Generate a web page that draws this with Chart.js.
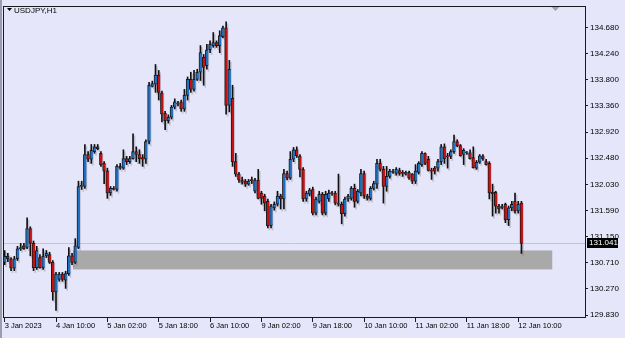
<!DOCTYPE html>
<html>
<head>
<meta charset="utf-8">
<script src="https://cdn.jsdelivr.net/npm/chart.js@4.4.1/dist/chart.umd.min.js"></script>
<style>
  html, body { margin: 0; padding: 0; background: #e6e6fa; }
  #wrap { width: 625px; height: 338px; }
</style>
</head>
<body>
<div id="wrap"><canvas id="chart" width="625" height="338"></canvas></div>
<script>
// USDJPY H1, 3 Jan 18:00 .. 12 Jan 11:00 (bar index 0..161)
const symbolTitle = 'USDJPY,H1';

const opens = [
  130.72,130.82,130.78,130.62,130.78,130.95,131.00,130.97,131.29,131.04,
  130.63,130.80,130.63,130.83,130.85,130.72,130.22,130.43,130.52,130.42,
  130.53,130.83,130.72,130.97,132.00,132.00,132.54,132.46,132.59,132.67,
  132.56,132.39,132.26,131.89,131.97,131.95,132.34,132.31,132.47,132.42,
  132.47,132.59,132.54,132.49,132.46,132.76,133.69,133.73,133.88,133.58,
  133.24,133.11,133.17,133.34,133.41,133.43,133.31,133.54,133.81,133.64,
  133.81,133.93,134.18,134.04,134.31,134.38,134.43,134.38,134.53,134.68,
  133.37,133.49,132.42,132.21,132.11,132.09,132.04,132.11,131.92,132.11,
  131.89,131.84,131.75,131.34,131.64,131.70,131.84,131.79,132.22,132.14,
  132.46,132.62,132.51,132.29,131.79,131.87,131.95,131.55,131.75,131.87,
  131.55,131.79,131.89,131.89,131.72,131.70,131.54,131.79,131.80,131.97,
  131.75,131.89,132.22,131.84,131.80,131.97,132.04,132.39,132.29,132.00,
  132.17,132.26,132.22,132.27,132.24,132.21,132.24,132.21,132.09,132.24,
  132.37,132.56,132.46,132.27,132.31,132.31,132.42,132.67,132.51,132.51,
  132.59,132.76,132.69,132.54,132.57,132.57,132.49,132.31,132.41,132.52,
  132.42,132.39,131.90,131.90,131.67,131.64,131.70,131.44,131.64,131.75,
  131.59,131.72
];
const highs = [
  130.92,130.87,130.80,130.82,130.99,131.04,131.04,131.47,131.32,131.08,
  130.99,130.85,130.95,130.92,130.89,130.75,130.55,130.55,130.55,130.57,
  130.97,130.87,131.12,132.09,132.09,132.71,132.59,132.71,132.71,132.71,
  132.59,132.42,132.31,132.00,132.00,132.37,132.39,132.62,132.51,132.51,
  132.89,132.67,132.62,132.54,132.79,133.76,133.78,134.06,133.96,133.61,
  133.27,133.21,133.37,133.48,133.44,133.46,133.64,133.85,133.93,133.96,
  133.98,134.38,134.23,134.40,134.46,134.60,134.46,134.63,134.71,134.78,
  134.13,133.71,132.56,132.24,132.16,132.12,132.12,132.16,132.14,132.29,
  131.92,131.87,131.79,131.70,131.74,131.92,131.87,132.29,132.26,132.59,
  132.66,132.67,132.54,132.32,131.92,131.97,131.99,131.82,131.92,131.90,
  131.92,131.94,131.92,131.92,132.21,131.74,131.82,131.87,132.00,132.04,
  131.95,132.29,132.26,131.87,132.00,132.09,132.46,132.46,132.34,132.34,
  132.29,132.29,132.32,132.31,132.27,132.26,132.26,132.22,132.37,132.42,
  132.59,132.57,132.51,132.31,132.34,132.46,132.71,132.72,132.56,132.62,
  132.87,132.79,132.71,132.64,132.59,132.62,132.67,132.44,132.54,132.54,
  132.46,132.42,132.04,131.92,131.70,131.70,131.72,131.67,131.75,131.89,
  131.75,131.75
];
const lows = [
  130.68,130.73,130.58,130.58,130.75,130.92,130.94,130.95,130.83,130.58,
  130.60,130.62,130.60,130.80,130.70,130.08,129.91,130.40,130.40,130.28,
  130.50,130.68,130.70,130.95,131.95,131.97,132.42,132.39,132.56,132.62,
  132.34,132.05,131.80,131.85,131.94,131.92,132.29,132.29,132.37,132.39,
  132.46,132.42,132.39,132.34,132.39,132.72,133.68,133.59,133.46,133.09,
  132.96,133.07,133.14,133.31,133.36,133.27,133.27,133.46,133.59,133.61,
  133.79,133.79,133.71,133.98,134.26,134.35,134.35,134.26,134.51,133.22,
  133.26,132.34,132.17,132.07,132.04,132.00,132.02,132.05,131.89,131.79,
  131.70,131.59,131.30,131.30,131.60,131.67,131.62,131.62,132.11,132.12,
  132.42,132.49,132.16,131.75,131.75,131.84,131.52,131.52,131.72,131.52,
  131.52,131.75,131.85,131.69,131.67,131.37,131.50,131.75,131.77,131.65,
  131.72,131.84,131.80,131.77,131.77,131.94,131.97,132.26,131.72,131.92,
  132.14,132.22,132.19,132.19,132.17,132.19,132.12,132.05,132.05,132.21,
  132.34,132.37,132.26,132.12,132.21,132.26,132.37,132.39,132.31,132.47,
  132.56,132.67,132.51,132.37,132.54,132.46,132.31,132.29,132.39,132.44,
  132.36,131.79,131.50,131.55,131.55,131.62,131.39,131.34,131.59,131.55,
  131.55,130.87
];
const closes = [
  130.82,130.78,130.62,130.78,130.95,130.97,130.95,131.29,131.04,130.63,
  130.92,130.63,130.82,130.87,130.72,130.22,130.52,130.52,130.43,130.53,
  130.83,130.72,131.00,132.00,132.02,132.54,132.46,132.61,132.67,132.64,
  132.37,132.26,131.89,131.97,131.95,132.34,132.31,132.47,132.42,132.47,
  132.59,132.54,132.47,132.46,132.76,133.71,133.74,133.88,133.59,133.22,
  133.11,133.17,133.34,133.43,133.39,133.31,133.54,133.81,133.64,133.81,
  133.93,134.26,134.01,134.31,134.40,134.43,134.38,134.55,134.68,133.37,
  133.98,132.42,132.21,132.11,132.07,132.04,132.09,132.10,132.11,131.80,
  131.80,131.72,131.34,131.67,131.70,131.84,131.79,132.22,132.14,132.46,
  132.62,132.52,132.29,131.79,131.89,131.94,131.55,131.79,131.87,131.55,
  131.87,131.89,131.88,131.72,131.70,131.54,131.79,131.84,131.97,131.75,
  131.92,132.22,131.84,131.80,131.97,132.05,132.39,132.29,132.00,132.17,
  132.26,132.24,132.29,132.22,132.22,132.24,132.14,132.09,132.26,132.39,
  132.56,132.39,132.27,132.26,132.26,132.42,132.67,132.47,132.50,132.59,
  132.76,132.69,132.52,132.61,132.58,132.47,132.32,132.41,132.52,132.47,
  132.37,131.89,131.88,131.67,131.62,131.67,131.44,131.64,131.70,131.59,
  131.70,131.041
];

// time axis: label every 16 bars
const xTickBars = [0, 16, 32, 48, 64, 80, 96, 112, 128, 144, 160];
const xTickLabels = ['3 Jan 2023', '4 Jan 10:00', '5 Jan 02:00', '5 Jan 18:00', '6 Jan 10:00',
  '9 Jan 02:00', '9 Jan 18:00', '10 Jan 10:00', '11 Jan 02:00', '11 Jan 18:00', '12 Jan 10:00'];
const yTicks = [129.830, 130.270, 130.710, 131.150, 131.590, 132.030, 132.480, 132.920, 133.360, 133.800, 134.240, 134.680];

// grey demand zone (bar index range, price range)
const zoneBars = [21.3, 170.6];
const zonePrices = [130.60, 130.92];
const shiftMarkerBar = 171.6;

const UP = '#2070c4';
const DOWN = '#c81010';
const FONT = "'Liberation Sans', Arial, sans-serif";

const barIdx = opens.map((_, i) => i);
const lastClose = closes[closes.length - 1];

const mtPlugin = {
  id: 'mt',
  beforeDraw(chart) {
    const ctx = chart.ctx;
    ctx.save();
    ctx.fillStyle = '#e6e6fa';
    ctx.fillRect(0, 0, chart.width, chart.height);
    ctx.fillStyle = '#9c9cac';
    ctx.fillRect(0, 0, 2, chart.height);
    ctx.restore();
  },
  beforeDatasetsDraw(chart) {
    const { ctx, chartArea: a, scales: { x, y } } = chart;
    ctx.save();
    ctx.beginPath();
    ctx.rect(a.left, a.top, a.right - a.left, a.bottom - a.top);
    ctx.clip();
    // zone
    const zx0 = x.getPixelForValue(zoneBars[0]);
    const zx1 = x.getPixelForValue(zoneBars[1]);
    const zy0 = y.getPixelForValue(zonePrices[1]);
    const zy1 = y.getPixelForValue(zonePrices[0]);
    ctx.fillStyle = '#a9a9a9';
    ctx.fillRect(zx0, zy0, zx1 - zx0, zy1 - zy0);
    // bid line
    const by = Math.round(y.getPixelForValue(lastClose)) + 0.5;
    ctx.strokeStyle = '#c4c4d0';
    ctx.lineWidth = 1;
    ctx.beginPath();
    ctx.moveTo(a.left, by);
    ctx.lineTo(a.right, by);
    ctx.stroke();
    ctx.restore();
    // candle shadow
    ctx.save();
    ctx.shadowColor = 'rgba(110, 110, 120, 0.3)';
    ctx.shadowOffsetX = 1.5;
    ctx.shadowOffsetY = 2;
    ctx.shadowBlur = 0;
  },
  afterDatasetsDraw(chart) {
    chart.ctx.restore();
  },
  afterDraw(chart) {
    const { ctx, chartArea: a, scales: { x, y } } = chart;
    ctx.save();
    // frame
    ctx.strokeStyle = '#1a1a1a';
    ctx.lineWidth = 1;
    ctx.strokeRect(Math.round(a.left) - 0.5, Math.round(a.top) + 0.5,
      Math.round(a.right - a.left) + 1, Math.round(a.bottom - a.top) - 1);
    // chart shift marker
    const sx = x.getPixelForValue(shiftMarkerBar);
    ctx.fillStyle = '#a0a0b0';
    ctx.beginPath();
    ctx.moveTo(sx - 4, a.top + 1);
    ctx.lineTo(sx + 4, a.top + 1);
    ctx.lineTo(sx, a.top + 5);
    ctx.closePath();
    ctx.fill();
    // title
    ctx.fillStyle = '#000';
    ctx.beginPath();
    ctx.moveTo(7, 8);
    ctx.lineTo(12, 8);
    ctx.lineTo(9.5, 11);
    ctx.closePath();
    ctx.fill();
    ctx.font = '8px ' + FONT;
    ctx.textBaseline = 'middle';
    ctx.fillText(symbolTitle, 14, 10.5);
    // bid price label
    const py = y.getPixelForValue(lastClose);
    ctx.fillStyle = '#000';
    ctx.fillRect(a.right + 2, Math.round(py) - 5, 31, 10);
    ctx.fillStyle = '#fff';
    ctx.fillText(lastClose.toFixed(3), a.right + 4, Math.round(py));
    ctx.restore();
  }
};

new Chart(document.getElementById('chart'), {
  type: 'bar',
  data: {
    datasets: [
      {
        label: 'wick',
        data: barIdx.map(i => ({ x: i, y: [lows[i], highs[i]] })),
        backgroundColor: '#111',
        barThickness: 1,
        grouped: false,
        order: 2
      },
      {
        label: 'body',
        data: barIdx.map(i => ({ x: i, y: [opens[i], closes[i]] })),
        backgroundColor: barIdx.map(i => closes[i] >= opens[i] ? UP : DOWN),
        borderColor: '#1a1a1a',
        borderWidth: { left: 1, right: 0, top: 1, bottom: 1 },
        borderSkipped: false,
        barThickness: 3,
        minBarLength: 1,
        grouped: false,
        order: 1
      }
    ]
  },
  plugins: [mtPlugin],
  options: {
    responsive: false,
    animation: false,
    devicePixelRatio: 1,
    layout: { padding: { left: 4, top: 3, right: 0, bottom: 0 } },
    plugins: { legend: { display: false }, tooltip: { enabled: false } },
    scales: {
      x: {
        type: 'linear',
        min: -0.2,
        max: 180.8,
        offset: false,
        grid: { display: true, offset: false, drawOnChartArea: false, drawTicks: true, tickLength: 4, color: '#1a1a1a' },
        border: { display: false },
        ticks: {
          autoSkip: false,
          maxRotation: 0,
          align: 'start',
          padding: 0,
          color: '#000',
          font: { family: FONT, size: 7.5, lineHeight: 1 },
          callback: (v, i) => xTickLabels[i]
        },
        afterBuildTicks: s => { s.ticks = xTickBars.map(v => ({ value: v })); },
        afterFit: s => { s.height = 20; }
      },
      y: {
        type: 'linear',
        position: 'right',
        min: 129.78,
        max: 135.048,
        grid: { display: true, drawOnChartArea: false, drawTicks: true, tickLength: 3, color: '#1a1a1a' },
        border: { display: false },
        ticks: {
          padding: 2,
          color: '#000',
          font: { family: FONT, size: 8, lineHeight: 1 },
          callback: v => v.toFixed(3)
        },
        afterBuildTicks: s => { s.ticks = yTicks.map(v => ({ value: v })); },
        afterFit: s => { s.width = 40; }
      }
    }
  }
});
</script>
</body>
</html>
